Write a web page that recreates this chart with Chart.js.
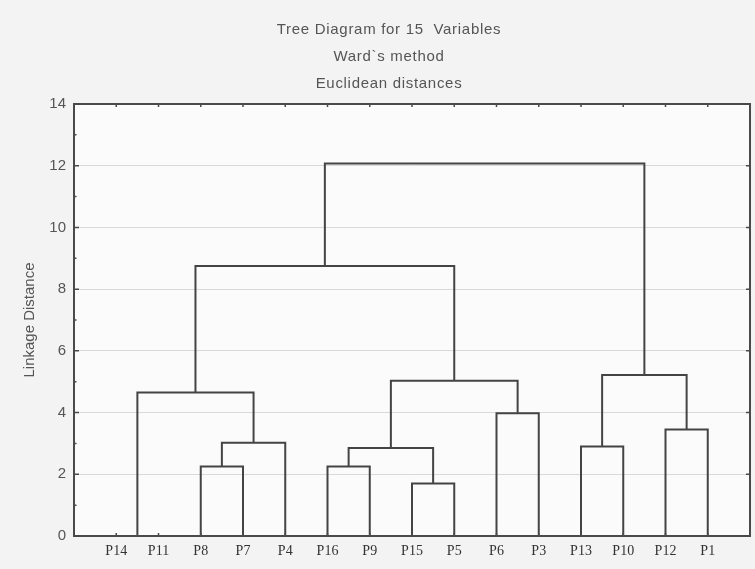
<!DOCTYPE html>
<html><head><meta charset="utf-8">
<script src="https://cdn.jsdelivr.net/npm/chart.js@4"></script>
<style>html,body{margin:0;padding:0;background:#f3f3f3;}</style>
</head><body>
<canvas id="c" width="755" height="569"></canvas>
<script>
const titleLines = ['Tree Diagram for 15  Variables', 'Ward`s method', 'Euclidean distances'];
const yAxisTitle = 'Linkage Distance';
const leaves = ['P14','P11','P8','P7','P4','P16','P9','P15','P5','P6','P3','P13','P10','P12','P1'];
const yTickValues = [0, 2, 4, 6, 8, 10, 12, 14];
// merges: ids 0-14 are leaves (in order above), 15+ are clusters in merge order
const mergeLeft   = [0, 2, 16, 15, 5, 7, 19, 9, 21, 18, 11, 13, 25, 24];
const mergeRight  = [1, 3, 4, 17, 6, 8, 20, 10, 22, 23, 12, 14, 26, 27];
const mergeHeight = [0.0, 2.25, 3.02, 4.65, 2.25, 1.70, 2.85, 3.98, 5.03, 8.75, 2.90, 3.45, 5.22, 12.07];

const pos = leaves.map((_, i) => i + 1);
const hgt = leaves.map(() => 0);
const datasets = [];
mergeHeight.forEach((h, k) => {
  const l = mergeLeft[k], r = mergeRight[k];
  datasets.push({
    data: [{x: pos[l], y: hgt[l]}, {x: pos[l], y: h}, {x: pos[r], y: h}, {x: pos[r], y: hgt[r]}],
    showLine: true, borderColor: '#444', borderWidth: 2, pointRadius: 0, fill: false,
    tension: 0, clip: false
  });
  pos.push((pos[l] + pos[r]) / 2);
  hgt.push(h);
});

const decor = {
  id: 'decor',
  beforeDraw(chart) {
    const {ctx, chartArea: a} = chart;
    ctx.save();
    ctx.fillStyle = '#f3f3f3';
    ctx.fillRect(0, 0, chart.width, chart.height);
    ctx.fillStyle = '#fbfbfb';
    ctx.fillRect(a.left, a.top, a.right - a.left, a.bottom - a.top);
    ctx.restore();
  },
  afterDatasetsDraw(chart) {
    const {ctx, chartArea: a, scales} = chart;
    const ys = scales.y, xs = scales.x;
    ctx.save();
    ctx.strokeStyle = '#4a4a4a';
    ctx.lineWidth = 2;
    ctx.strokeRect(a.left, a.top, a.right - a.left, a.bottom - a.top);
    ctx.lineWidth = 1.5;
    ctx.beginPath();
    for (let v = 0; v <= 14; v++) {
      const y = ys.getPixelForValue(v);
      const len = v % 2 === 0 ? 5 : 2.5;
      ctx.moveTo(a.left, y); ctx.lineTo(a.left + len, y);
      if (v % 2 === 0) { ctx.moveTo(a.right, y); ctx.lineTo(a.right - 4, y); }
    }
    leaves.forEach((_, i) => {
      const x = xs.getPixelForValue(i + 1);
      ctx.moveTo(x, a.top); ctx.lineTo(x, a.top + 3);
      ctx.moveTo(x, a.bottom); ctx.lineTo(x, a.bottom - 3);
    });
    ctx.stroke();
    // titles
    ctx.fillStyle = '#555';
    ctx.font = '15px "Liberation Sans", Arial, sans-serif';
    ctx.textAlign = 'center';
    ctx.textBaseline = 'middle';
    try { ctx.letterSpacing = '0.7px'; } catch (e) {}
    const cx = (a.left + a.right) / 2 - 23;
    titleLines.forEach((t, i) => ctx.fillText(t, cx, 30 + i * 27));
    ctx.restore();
  }
};

new Chart(document.getElementById('c'), {
  type: 'scatter',
  data: {datasets},
  options: {
    responsive: false,
    animation: false,
    layout: {padding: {top: 104, right: 5, left: 0, bottom: 0}},
    plugins: {legend: {display: false}, tooltip: {enabled: false}, title: {display: false}},
    scales: {
      x: {
        type: 'linear', min: 0, max: 16,
        afterBuildTicks: (s) => { s.ticks = leaves.map((_, i) => ({value: i + 1})); },
        afterFit: (s) => { s.height = 33; },
        ticks: {
          autoSkip: false, maxRotation: 0, padding: 7, color: '#333',
          font: {family: '"Liberation Serif", "Times New Roman", serif', size: 14},
          callback: (v) => leaves[Math.round(v) - 1] || ''
        },
        grid: {display: false, drawTicks: false},
        border: {display: true, color: '#4a4a4a', width: 2}
      },
      y: {
        type: 'linear', min: 0, max: 14,
        afterBuildTicks: (s) => { s.ticks = yTickValues.map(v => ({value: v})); },
        afterFit: (s) => { s.width = 74; },
        ticks: {
          padding: 8, color: '#555',
          font: {family: '"Liberation Sans", Arial, sans-serif', size: 15}
        },
        grid: {color: '#d9d9d9', lineWidth: 1, drawTicks: false},
        border: {display: true, color: '#4a4a4a', width: 2},
        title: {
          display: true, text: yAxisTitle, color: '#555',
          font: {family: '"Liberation Sans", Arial, sans-serif', size: 15},
          padding: {top: 21, bottom: 0}
        }
      }
    }
  },
  plugins: [decor]
});
</script>
</body></html>
